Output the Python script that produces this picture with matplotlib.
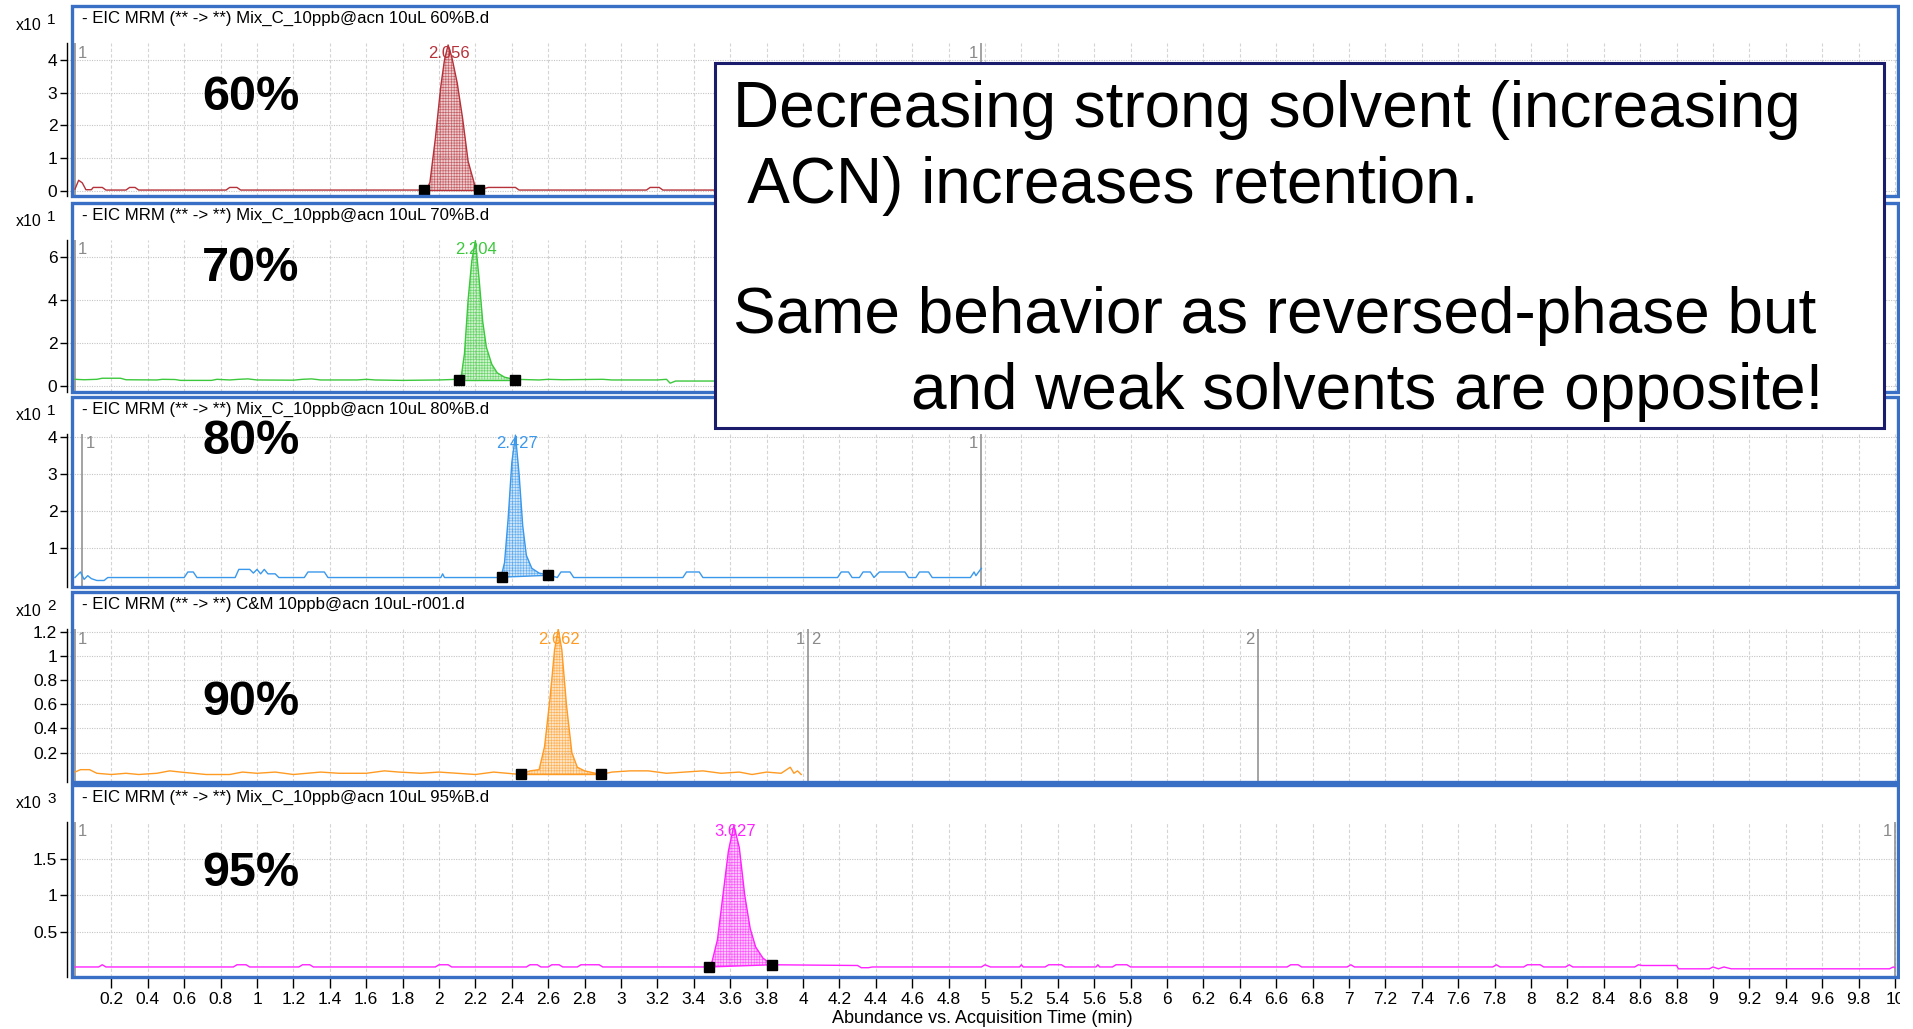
import numpy as np
import matplotlib
matplotlib.use("Agg")
import matplotlib.pyplot as plt
from matplotlib.patches import Rectangle
from matplotlib.ticker import FixedLocator, FixedFormatter

plt.rcParams['font.family'] = ['Liberation Sans', 'DejaVu Sans']
plt.rcParams['hatch.linewidth'] = 0.45

W, H = 1913, 1029

# ---- data ----
titles = ["- EIC MRM (** -> **) Mix_C_10ppb@acn 10uL 60%B.d",
          "- EIC MRM (** -> **) Mix_C_10ppb@acn 10uL 70%B.d",
          "- EIC MRM (** -> **) Mix_C_10ppb@acn 10uL 80%B.d",
          "- EIC MRM (** -> **) C&M 10ppb@acn 10uL-r001.d",
          "- EIC MRM (** -> **) Mix_C_10ppb@acn 10uL 95%B.d"]
pct_labels = ["60%", "70%", "80%", "90%", "95%"]
exponents = ["1", "1", "1", "2", "3"]
rt_labels = ["2.056", "2.204", "2.427", "2.662", "3.627"]
rt_values = [2.056, 2.204, 2.427, 2.662, 3.627]
colors = ["#b5323a", "#3cc83c", "#3a98ec", "#ff9a22", "#ff22ff"]

yticks = [[0, 1, 2, 3, 4], [0, 2, 4, 6], [1, 2, 3, 4],
          [0.2, 0.4, 0.6, 0.8, 1, 1.2], [0.5, 1, 1.5]]
ylims = [(-0.162, 4.52), (-0.29, 6.78), (-0.056, 4.08), (-0.042, 1.222), (-0.106, 1.996)]

t60 = [0.00, 0.02, 0.04, 0.06, 0.09, 0.10, 0.15, 0.17, 0.28, 0.30, 0.33, 0.35, 0.83, 0.85, 0.89, 0.91,
       1.93, 1.95, 1.98, 2.01, 2.03, 2.05, 2.07, 2.10, 2.13, 2.16, 2.18, 2.20, 2.22,
       2.27, 2.42, 2.44, 3.14, 3.16, 3.21, 3.23, 4.98]
y60 = [0.05, 0.32, 0.24, 0.03, 0.03, 0.10, 0.10, 0.02, 0.02, 0.10, 0.10, 0.02, 0.02, 0.10, 0.10, 0.02,
       0.02, 0.25, 1.60, 3.20, 4.00, 4.46, 4.10, 3.30, 2.20, 0.90, 0.50, 0.10, 0.02,
       0.10, 0.10, 0.02, 0.02, 0.10, 0.10, 0.02, 0.02]

t70 = [0.00, 0.05, 0.12, 0.15, 0.25, 0.28, 0.45, 0.48, 0.55, 0.58, 0.75, 0.78, 0.85, 0.90, 0.95, 1.00,
       1.20, 1.25, 1.30, 1.35, 1.55, 1.60, 1.65, 1.80, 2.00, 2.10,
       2.12, 2.14, 2.16, 2.18, 2.20, 2.22, 2.24, 2.26, 2.29, 2.32, 2.36, 2.40, 2.42,
       2.55, 2.60, 2.68, 2.90, 2.95, 3.20, 3.25, 3.27, 3.30, 3.60, 4.98]
y70 = [0.30, 0.28, 0.30, 0.35, 0.35, 0.28, 0.27, 0.30, 0.29, 0.25, 0.25, 0.30, 0.27, 0.30, 0.32, 0.27,
       0.26, 0.30, 0.32, 0.27, 0.27, 0.30, 0.27, 0.25, 0.27, 0.30,
       0.30, 1.50, 4.00, 5.80, 6.75, 5.00, 3.00, 1.80, 1.00, 0.60, 0.40, 0.32, 0.30,
       0.27, 0.30, 0.28, 0.30, 0.27, 0.27, 0.30, 0.12, 0.22, 0.22, 0.22]

t80 = [0.00, 0.03, 0.05, 0.07, 0.09, 0.12, 0.16, 0.18, 0.60, 0.62, 0.65, 0.67, 0.88, 0.90, 0.96, 0.98,
       1.00, 1.02, 1.04, 1.06, 1.10, 1.12, 1.26, 1.28, 1.37, 1.39, 2.01, 2.02, 2.03,
       2.34, 2.36, 2.38, 2.40, 2.42, 2.44, 2.46, 2.48, 2.51, 2.55, 2.60,
       2.65, 2.67, 2.72, 2.74, 3.34, 3.36, 3.43, 3.45, 4.19, 4.21, 4.25, 4.27, 4.31, 4.33, 4.37, 4.39,
       4.42, 4.56, 4.58, 4.62, 4.64, 4.69, 4.71, 4.92, 4.94, 4.95, 4.98]
y80 = [0.20, 0.35, 0.15, 0.25, 0.17, 0.12, 0.12, 0.20, 0.20, 0.35, 0.35, 0.20, 0.20, 0.42, 0.42, 0.32,
       0.42, 0.30, 0.42, 0.30, 0.30, 0.20, 0.20, 0.35, 0.35, 0.20, 0.20, 0.30, 0.20,
       0.20, 0.60, 1.80, 3.30, 4.05, 3.00, 1.60, 0.80, 0.45, 0.32, 0.27,
       0.20, 0.35, 0.35, 0.20, 0.20, 0.35, 0.35, 0.20, 0.20, 0.35, 0.35, 0.20, 0.20, 0.35, 0.35, 0.20,
       0.35, 0.35, 0.20, 0.20, 0.35, 0.35, 0.20, 0.20, 0.35, 0.25, 0.45]

t90 = [0.00, 0.03, 0.08, 0.12, 0.20, 0.28, 0.35, 0.45, 0.52, 0.58, 0.65, 0.72, 0.85, 0.92, 1.00, 1.10,
       1.20, 1.35, 1.45, 1.60, 1.70, 1.78, 1.90, 2.00, 2.10, 2.20, 2.30, 2.45, 2.50, 2.55,
       2.58, 2.61, 2.635, 2.655, 2.675, 2.70, 2.73, 2.76, 2.80, 2.89,
       2.95, 3.05, 3.15, 3.25, 3.35, 3.45, 3.55, 3.65, 3.72, 3.80, 3.88, 3.93, 3.95, 3.97, 3.99]
y90 = [0.04, 0.06, 0.06, 0.03, 0.02, 0.03, 0.02, 0.03, 0.05, 0.04, 0.03, 0.02, 0.02, 0.04, 0.03, 0.04,
       0.02, 0.04, 0.03, 0.03, 0.05, 0.04, 0.03, 0.04, 0.03, 0.02, 0.04, 0.02, 0.05, 0.06,
       0.25, 0.65, 1.05, 1.22, 1.05, 0.60, 0.20, 0.08, 0.05, 0.02,
       0.04, 0.05, 0.05, 0.03, 0.04, 0.05, 0.03, 0.04, 0.02, 0.04, 0.03, 0.08, 0.03, 0.05, 0.02]

t95 = [0.00, 0.13, 0.15, 0.17, 0.87, 0.89, 0.94, 0.96, 1.23, 1.25, 1.29, 1.31, 1.98, 2.00, 2.05, 2.07,
       2.48, 2.50, 2.54, 2.56, 2.60, 2.62, 2.66, 2.68, 2.76, 2.78, 2.88, 2.90,
       3.48, 3.50, 3.53, 3.56, 3.59, 3.62, 3.65, 3.68, 3.71, 3.74, 3.78, 3.83,
       4.30, 4.32, 4.36, 4.38, 4.98, 5.00, 5.03, 5.19, 5.20, 5.21, 5.33, 5.35, 5.42, 5.44,
       5.61, 5.62, 5.63, 5.70, 5.72, 5.78, 5.80, 6.66, 6.68, 6.72, 6.74, 6.99, 7.01, 7.03,
       7.79, 7.81, 7.83, 7.96, 7.98, 8.05, 8.07, 8.19, 8.21, 8.23, 8.57, 8.59, 8.61, 8.80, 8.81,
       8.98, 9.00, 9.03, 9.06, 9.10, 9.97, 9.99, 10.00]
y95 = [0.03, 0.03, 0.06, 0.03, 0.03, 0.06, 0.06, 0.03, 0.03, 0.06, 0.06, 0.03, 0.03, 0.06, 0.06, 0.03,
       0.03, 0.06, 0.06, 0.03, 0.03, 0.06, 0.06, 0.03, 0.03, 0.06, 0.06, 0.03,
       0.03, 0.10, 0.40, 1.00, 1.60, 1.95, 1.65, 1.00, 0.55, 0.30, 0.15, 0.06,
       0.05, 0.02, 0.02, 0.03, 0.03, 0.06, 0.03, 0.03, 0.06, 0.03, 0.03, 0.06, 0.06, 0.03,
       0.03, 0.06, 0.03, 0.03, 0.06, 0.06, 0.03, 0.03, 0.06, 0.06, 0.03, 0.03, 0.06, 0.03,
       0.03, 0.06, 0.03, 0.03, 0.06, 0.06, 0.03, 0.03, 0.06, 0.03, 0.03, 0.06, 0.05, 0.05, 0.005,
       0.005, 0.03, 0.005, 0.03, 0.005, 0.005, 0.03, 0.02]

traces = [(t60, y60), (t70, y70), (t80, y80), (t90, y90), (t95, y95)]

# integration start / end (time, abundance)
integ = [((1.92, 0.02), (2.22, 0.02)),
         ((2.11, 0.29), (2.42, 0.29)),
         ((2.345, 0.21), (2.60, 0.26)),
         ((2.45, 0.02), (2.89, 0.02)),
         ((3.485, 0.03), (3.83, 0.06))]

# segment markers: (time, label left of line, label right of line)
seg_marks = [[(0.0, "", "1"), (4.98, "1", "")],
             [(0.0, "", "1"), (4.98, "1", "")],
             [(0.04, "", "1"), (4.98, "1", "")],
             [(0.0, "", "1"), (4.03, "1", "2"), (6.5, "2", "")],
             [(0.0, "", "1"), (10.0, "1", "")]]

x_ticks = [round(0.2 * k, 1) for k in range(1, 51)]
x_ticklabels = ["%g" % v for v in x_ticks]

box_tops = [6, 203, 397, 592, 785]
box_bots = [196, 392, 587, 782, 977]
pct_baseline = [110, 281, 454, 715, 886]

note_lines = [("Decreasing strong solvent (increasing", 733, 127),
              (" ACN) increases retention.", 733, 203),
              ("Same behavior as reversed-phase but", 733, 333),
              ("and weak solvents are opposite!", 911, 409)]

BLUE = "#3a6fc6"
GRAY = "#8a8a8a"

fig = plt.figure(figsize=(W / 100, H / 100), dpi=100)


def fx(px):
    return px / W


def fy(py):
    return 1 - py / H


AX_L, AX_R = 67, 1898
x0_px, px_per_min = 75, 182.0

for i in range(5):
    top = box_tops[i] + 37
    bot = box_bots[i]
    ax = fig.add_axes([fx(AX_L), fy(bot), fx(AX_R - AX_L), (bot - top) / H])
    ax.set_xlim((AX_L - x0_px) / px_per_min, (AX_R - x0_px) / px_per_min)
    ax.set_ylim(*ylims[i])
    ax.set_facecolor("none")
    for s in ["top", "right", "bottom"]:
        ax.spines[s].set_visible(False)
    ax.spines["left"].set_linewidth(1.0)

    ax.xaxis.set_major_locator(FixedLocator(x_ticks))
    ax.set_yticks(yticks[i])
    ax.set_yticklabels(["%g" % v for v in yticks[i]])
    ax.tick_params(axis="y", length=5, width=1, pad=2, labelsize=12.5)
    if i == 4:
        ax.xaxis.set_major_formatter(FixedFormatter(x_ticklabels))
        ax.tick_params(axis="x", length=8, width=1, pad=3, labelsize=12.5)
        ax.set_xlabel("Abundance vs. Acquisition Time (min)", fontsize=13, labelpad=2)
    else:
        ax.tick_params(axis="x", length=0, labelbottom=False)

    ax.grid(axis="x", color="#d4d4d4", linestyle=(0, (3, 2)), linewidth=0.8)
    ax.grid(axis="y", color="#c4c4c4", linestyle=(0, (1, 1.2)), linewidth=0.8)
    ax.set_axisbelow(True)

    c = colors[i]
    t, y = traces[i]
    t = np.asarray(t)
    y = np.asarray(y)
    ax.plot(t, y, color=c, lw=1.0, zorder=3)

    (ts, ys), (te, ye) = integ[i]
    m = (t > ts) & (t < te)
    tt = np.concatenate([[ts], t[m], [te]])
    yy = np.concatenate([[np.interp(ts, t, y)], y[m], [np.interp(te, t, y)]])
    base = np.interp(tt, [ts, te], [ys, ye])
    ax.fill_between(tt, base, yy, facecolor=matplotlib.colors.to_rgba(c, 0.25),
                    edgecolor=matplotlib.colors.to_rgba(c, 0.7), hatch="++++++",
                    linewidth=0, zorder=2)
    ax.plot([ts, te], [ys, ye], color=c, lw=1.0, zorder=3)
    ax.plot([ts, te], [ys, ye], "s", color="black", ms=6.5, zorder=5, clip_on=False)

    ax.annotate(rt_labels[i], xy=(rt_values[i], 1), xycoords=("data", "axes fraction"),
                xytext=(0, -10), textcoords="offset pixels", ha="center", va="center",
                color=c, fontsize=12, zorder=6)

    for tm, lab_l, lab_r in seg_marks[i]:
        ax.axvline(tm, color=GRAY, lw=1.1, zorder=2.5)
        if lab_l:
            ax.annotate(lab_l, xy=(tm, 1), xycoords=("data", "axes fraction"),
                        xytext=(-3, -10), textcoords="offset pixels", ha="right",
                        va="center", color=GRAY, fontsize=12)
        if lab_r:
            ax.annotate(lab_r, xy=(tm, 1), xycoords=("data", "axes fraction"),
                        xytext=(3, -10), textcoords="offset pixels", ha="left",
                        va="center", color=GRAY, fontsize=12)

    # panel frame, title and scale
    fig.add_artist(Rectangle((fx(72), fy(box_bots[i])), fx(1898 - 72),
                             (box_bots[i] - box_tops[i]) / H, transform=fig.transFigure,
                             facecolor="none", edgecolor=BLUE, lw=2.4, zorder=2))
    fig.text(fx(82), fy(box_tops[i] + 12), titles[i], fontsize=12.1, ha="left", va="center")
    fig.text(fx(42), fy(box_tops[i] + 19), "x10", fontsize=11.5, ha="right", va="center")
    fig.text(fx(47), fy(box_tops[i] + 14), exponents[i], fontsize=11, ha="left", va="center")
    fig.text(fx(251), fy(pct_baseline[i]), pct_labels[i], fontsize=35, fontweight="bold",
             ha="center", va="baseline", zorder=4)

# annotation box
fig.add_artist(Rectangle((fx(715), fy(428)), fx(1884 - 715), (428 - 63) / H,
                         transform=fig.transFigure, facecolor="white",
                         edgecolor="#1c1c6c", lw=2.2, zorder=5))
for txt, x, yb in note_lines:
    fig.text(fx(x), fy(yb), txt, fontsize=46, ha="left", va="baseline", zorder=6)

# the original screenshot ends a little before the right edge
fig.add_artist(Rectangle((fx(1900), 0), fx(W - 1900), 1, transform=fig.transFigure,
                         facecolor="white", edgecolor="none", zorder=10))

fig.savefig("out.png", dpi=100)
